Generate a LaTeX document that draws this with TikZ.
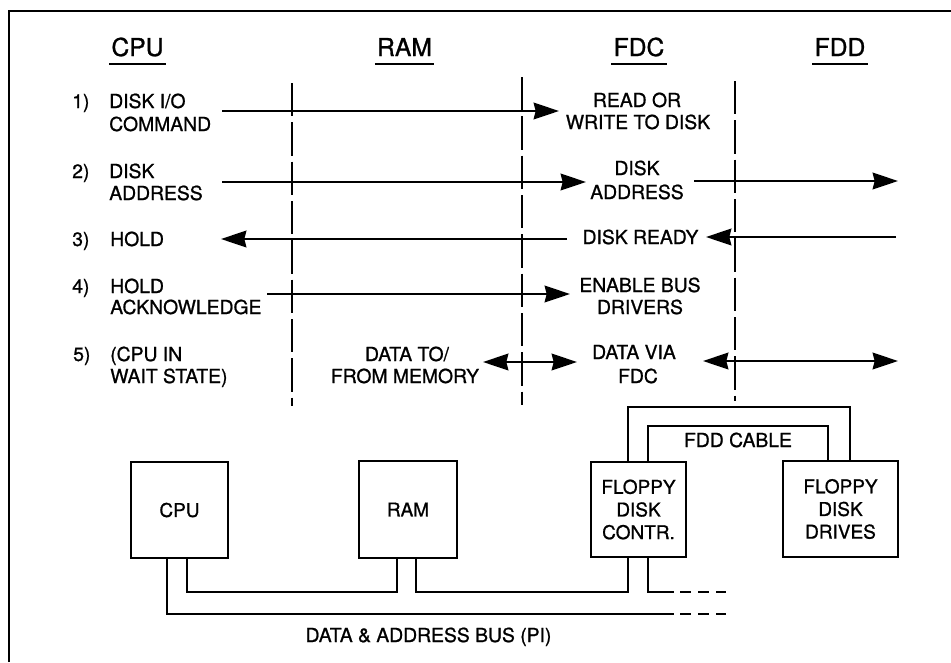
\documentclass[tikz,border=0pt]{standalone}
\usepackage{fontspec}
\setmainfont[FakeBold=0.9]{TeX Gyre Heros}
\newfontfamily\headfont[FakeBold=1.1]{TeX Gyre Heros}
\usetikzlibrary{arrows.meta}
\begin{document}
\begin{tikzpicture}[x=0.75pt,y=-0.75pt,
  lab/.style={font=\fontsize{14.5}{17}\selectfont, inner sep=0pt, anchor=base west},
  clab/.style={font=\fontsize{14.5}{17}\selectfont, inner sep=0pt, anchor=base},
  head/.style={font=\headfont\fontsize{18.5}{22}\selectfont, inner sep=0pt, anchor=base},
  uline/.style={line width=2.2pt},
  block/.style={draw, line width=1.8pt, inner sep=0pt, outer sep=0pt, align=center, font=\fontsize{14.25}{17}\selectfont},
  sig/.style={line width=1.7pt, -{Stealth[length=19pt,width=12.5pt,inset=1.5pt]}},
  bisig/.style={line width=1.7pt, {Stealth[length=19pt,width=12.5pt,inset=1.5pt]}-{Stealth[length=19pt,width=12.5pt,inset=1.5pt]}},
  lifeline/.style={line width=1.6pt, dash pattern=on 25pt off 4.5pt},
  wire/.style={line width=1.8pt},
  wiredash/.style={line width=1.8pt, dash pattern=on 8.25pt off 5.25pt},
  frame/.style={line width=2.2pt}
]
\useasboundingbox (0,0) rectangle (951,662);
\fill[white] (0,0) rectangle (951,662);
\draw[frame] (9,662) -- (9,11) -- (951,11);

% headers
\node[head] (hcpu) at (137.5,56) {CPU};
\node[head] (hram) at (404.5,56) {RAM};
\node[head] (hfdc) at (639,56) {FDC};
\node[head] (hfdd) at (840,56) {FDD};
\foreach \n in {hcpu,hram,hfdc,hfdd}
  \draw[uline] ([shift={(-1.5pt,-6pt)}]\n.base west) -- ([shift={(1.5pt,-6pt)}]\n.base east);

% lifelines
\coordinate (l1t) at (292,83);  \coordinate (l1b) at (292,406);
\coordinate (l2t) at (522,77);  \coordinate (l2b) at (522,405);
\coordinate (l3t) at (735,81);  \coordinate (l3b) at (735,401);
\draw[lifeline] (l1t) -- (l1b);
\draw[lifeline] (l2t) -- (l2b);
\draw[lifeline] (l3t) -- (l3b);

% row labels (CPU column)
\node[lab] (n1) at (72,108) {1)};
\node[lab] (t1a) at (109,108) {DISK I/O};
\node[lab] (t1b) at (109,131) {COMMAND};
\node[lab] (n2) at (72,178) {2)};
\node[lab] (t2a) at (109,178) {DISK};
\node[lab] (t2b) at (109,200) {ADDRESS};
\node[lab] (n3) at (72,246) {3)};
\node[lab] (t3) at (110,246) {HOLD};
\node[lab] (n4) at (72,293) {4)};
\node[lab] (t4a) at (110,293) {HOLD};
\node[lab] (t4b) at (110,314) {ACKNOWLEDGE};
\node[lab] (n5) at (73,361) {5)};
\node[lab] (t5a) at (110,361) {(CPU IN};
\node[lab] (t5b) at (110,383) {WAIT STATE)};

% RAM column
\node[clab] (r5a) at (407,361) {DATA TO/};
\node[clab] (r5b) at (405,383) {FROM MEMORY};

% FDC column
\node[clab] (f1a) at (637,107) {READ OR};
\node[clab] (f1b) at (638,129) {WRITE TO DISK};
\node[clab] (f2a) at (637,175) {DISK};
\node[clab] (f2b) at (637,199) {ADDRESS};
\node[clab] (f3) at (640.5,244) {DISK READY};
\node[clab] (f4a) at (640,292) {ENABLE BUS};
\node[clab] (f4b) at (640,314) {DRIVERS};
\node[clab] (f5a) at (634,359) {DATA VIA};
\node[clab] (f5b) at (638,383) {FDC};

% signal arrows
\coordinate (a1s) at (222,111);  \coordinate (a1e) at (559,111);
\coordinate (a2s) at (222,182);  \coordinate (a2e) at (586,182);
\coordinate (a2fs) at (694,181); \coordinate (a2fe) at (898,181);
\coordinate (a3s) at (567,239);  \coordinate (a3e) at (221,239);
\coordinate (a3fs) at (896,237); \coordinate (a3fe) at (706,237);
\coordinate (a4s) at (267,294);  \coordinate (a4e) at (570,294);
\coordinate (a5s) at (483,362);  \coordinate (a5e) at (577,362);
\coordinate (a5fs) at (703,361); \coordinate (a5fe) at (898,361);
\draw[sig] (a1s) -- (a1e);
\draw[sig] (a2s) -- (a2e);
\draw[sig] (a2fs) -- (a2fe);
\draw[sig] (a3s) -- (a3e);
\draw[sig] (a3fs) -- (a3fe);
\draw[sig] (a4s) -- (a4e);
\draw[bisig] (a5s) -- (a5e);
\draw[bisig] (a5fs) -- (a5fe);

% blocks
\node[block, minimum width=72.75pt, minimum height=72pt] (cpu) at (179.5,510) {CPU};
\node[block, minimum width=73.5pt, minimum height=72.75pt] (ram) at (408,509.5) {RAM};
\node[block, minimum width=71.25pt, minimum height=71.25pt] (fdc) at (638.5,509.5) {FLOPPY\\DISK\\CONTR.};
\node[block, minimum width=86.25pt, minimum height=72pt] (fdd) at (840.5,509) {FLOPPY\\DISK\\DRIVES};

% bus wiring
\coordinate (busA) at (674,614); \coordinate (busAd) at (680,614); \coordinate (busAe) at (726,614);
\coordinate (busB) at (674,592); \coordinate (busBd) at (680,592); \coordinate (busBe) at (726,592);
\draw[wire] (cpu.south -| 167,0) |- (busA);
\draw[wiredash] (busAd) -- (busAe);
\draw[wire] (cpu.south -| 187,0) |- (397,592) -- (ram.south -| 397,0);
\draw[wire] (ram.south -| 416,0) |- (628,592) -- (fdc.south -| 628,0);
\draw[wire] (fdc.south -| 648,0) |- (busB);
\draw[wiredash] (busBd) -- (busBe);

% FDD cable
\draw[wire] (fdc.north -| 628,0) |- (850,407) -- (fdd.north -| 850,0);
\draw[wire] (fdc.north -| 648,0) |- (828,426) -- (fdd.north -| 828,0);
\node[clab] (cab) at (738,447) {FDD CABLE};

\node[clab] (bus) at (428.5,642) {DATA \& ADDRESS BUS (PI)};
\end{tikzpicture}
\end{document}
